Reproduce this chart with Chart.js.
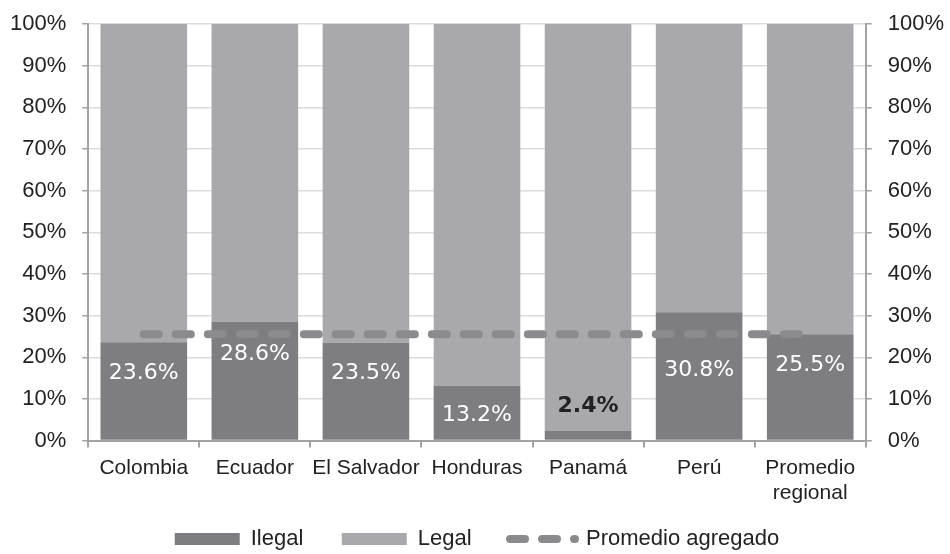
<!DOCTYPE html>
<html>
<head>
<meta charset="utf-8">
<title>Ilegal / Legal</title>
<script src="https://cdn.jsdelivr.net/npm/chart.js@4"></script>
<style>
  html, body { margin: 0; padding: 0; background: #fff; }
  #chart-container { width: 950px; height: 554px; }
</style>
</head>
<body>
<div id="chart-container"><canvas id="chart" width="950" height="554"></canvas></div>
<script>
// countries on the x axis
const countries = ["Colombia", "Ecuador", "El Salvador", "Honduras", "Panamá", "Perú", ["Promedio", "regional"]];
// share of the total, in %
const ilegal = [23.6, 28.6, 23.5, 13.2, 2.4, 30.8, 25.5];
const legal = [76.4, 71.4, 76.5, 86.8, 97.6, 69.2, 74.5];
const promedioAgregado = [25.5, 25.5, 25.5, 25.5, 25.5, 25.5, 25.5];
const percentTicks = [0, 10, 20, 30, 40, 50, 60, 70, 80, 90, 100];

const DARK = "#7e7e82",
  LIGHT = "#a9a9ad",
  DASH = "#8b8b8f",
  AXIS = "#a3a3a3",
  GRID = "#dcdcdc",
  TEXT = "#222222";

const FONT = "'Liberation Sans', Arial, sans-serif";
const DASH_PATTERN = [15, 17];
// legend padding is also the vertical gap, so the wider horizontal gap comes from trailing spaces
const GAP = "    ";

Chart.defaults.font.family = FONT;
Chart.defaults.color = TEXT;

// values written inside the dark bars (Panamá's sits above its thin bar)
const barLabels = {
  id: "barLabels",
  afterDatasetsDraw(chart, args, opts) {
    const ctx = chart.ctx;
    const meta = chart.getDatasetMeta(1);
    ctx.save();
    ctx.textAlign = "center";
    ctx.textBaseline = "middle";
    meta.data.forEach((bar, i) => {
      const v = ilegal[i];
      const shift = opts.shift[i];
      const outside = shift < 0;
      ctx.font = (outside ? "bold " : "") + "22px 'DejaVu Sans', sans-serif";
      ctx.fillStyle = outside ? TEXT : "#ffffff";
      ctx.fillText(v.toFixed(1) + "%", bar.x, bar.y + shift);
    });
    ctx.restore();
  }
};

const percentAxis = (position, drawGrid) => ({
  position: position,
  min: 0,
  max: 100,
  afterBuildTicks: axis => {
    axis.ticks = percentTicks.map(v => ({ value: v }));
  },
  // the 100% label only needs half its height above the plot
  afterFit: axis => {
    axis.paddingTop = 24;
  },
  ticks: {
    padding: 16,
    font: { size: 22 },
    color: TEXT,
    callback: v => v + "%"
  },
  grid: {
    drawOnChartArea: drawGrid,
    color: GRID,
    tickColor: AXIS,
    tickLength: 6,
    lineWidth: 1.5
  },
  border: { display: true, color: AXIS, width: 2 }
});

const ctx = document.getElementById("chart").getContext("2d");

new Chart(ctx, {
  data: {
    labels: countries,
    datasets: [{
        type: "line",
        label: "Promedio agregado",
        data: promedioAgregado,
        yAxisID: "y",
        borderColor: DASH,
        backgroundColor: DASH,
        borderWidth: 8,
        borderDash: DASH_PATTERN,
        borderCapStyle: "round",
        pointRadius: 0,
        fill: false,
        order: 0
      },
      {
        type: "bar",
        label: "Ilegal",
        data: ilegal,
        yAxisID: "y",
        backgroundColor: DARK,
        borderWidth: 0,
        barPercentage: 0.78,
        categoryPercentage: 1,
        order: 1
      },
      {
        type: "bar",
        label: "Legal",
        data: legal,
        yAxisID: "y",
        backgroundColor: LIGHT,
        borderWidth: 0,
        barPercentage: 0.78,
        categoryPercentage: 1,
        order: 1
      }
    ]
  },
  options: {
    responsive: false,
    animation: false,
    layout: {
      padding: { top: 2, left: -6, right: -10, bottom: -6 }
    },
    scales: {
      x: {
        stacked: true,
        ticks: {
          padding: 8,
          font: { size: 21 },
          color: TEXT,
          maxRotation: 0,
          autoSkip: false
        },
        grid: {
          offset: true,
          drawOnChartArea: false,
          tickColor: AXIS,
          tickLength: 7,
          lineWidth: 2
        },
        border: { display: true, color: AXIS, width: 2 }
      },
      y: Object.assign(percentAxis("left", true), { stacked: true }),
      y2: percentAxis("right", false)
    },
    plugins: {
      tooltip: { enabled: false },
      barLabels: {
        shift: [31, 33, 31, 30, -24, 58, 31]
      },
      legend: {
        position: "bottom",
        labels: {
          usePointStyle: true,
          pointStyleWidth: 65,
          boxHeight: 12,
          padding: 14,
          font: { size: 22 },
          color: TEXT,
          generateLabels: () => [{
              text: "Ilegal" + GAP,
              fillStyle: DARK,
              strokeStyle: DARK,
              lineWidth: 0,
              pointStyle: "rect",
              fontColor: TEXT,
              datasetIndex: 1
            },
            {
              text: "Legal" + GAP,
              fillStyle: LIGHT,
              strokeStyle: LIGHT,
              lineWidth: 0,
              pointStyle: "rect",
              fontColor: TEXT,
              datasetIndex: 2
            },
            {
              text: "Promedio agregado",
              fillStyle: "rgba(0,0,0,0)",
              strokeStyle: DASH,
              lineWidth: 8,
              lineDash: DASH_PATTERN,
              lineCap: "round",
              pointStyle: "line",
              fontColor: TEXT,
              datasetIndex: 0
            }
          ]
        }
      }
    }
  },
  plugins: [barLabels]
});
</script>
</body>
</html>
